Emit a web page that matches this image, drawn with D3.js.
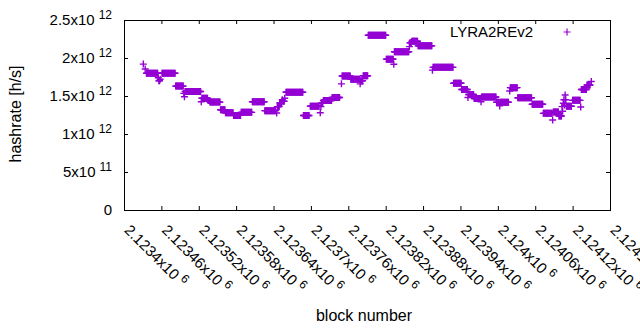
<!DOCTYPE html>
<html>
<head>
<meta charset="utf-8">
<script src="https://cdn.jsdelivr.net/npm/d3@7"></script>
<style>
  body { margin: 0; background: #fff; }
  text { font-family: "Liberation Sans", Arial, sans-serif; fill: #000; }
</style>
</head>
<body>
<div id="chart"></div>
<script>
const W = 640, H = 330;
const PLOT = {LEFT: 124, RIGHT: 610, TOP: 20, BOTTOM: 210};
const COLOR = "#9400d3";

// runs of blocks with the same hashrate: [first block, last block, hashrate (x10^12 h/s)]
const runs = [
    [2123431, 2123431, 1.92], [2123434, 2123434, 1.855], [2123436, 2123454, 1.80],
    [2123455, 2123455, 1.74], [2123456, 2123457, 1.70], [2123458, 2123458, 1.72],
    [2123461, 2123482, 1.80], [2123483, 2123495, 1.63], [2123496, 2123496, 1.535],
    [2123497, 2123497, 1.49], [2123498, 2123523, 1.56], [2123524, 2123524, 1.425],
    [2123525, 2123534, 1.47], [2123535, 2123537, 1.44], [2123538, 2123554, 1.42],
    [2123555, 2123562, 1.32], [2123563, 2123575, 1.28], [2123576, 2123587, 1.245],
    [2123588, 2123605, 1.285], [2123606, 2123625, 1.425], [2123626, 2123643, 1.307],
    [2123645, 2123645, 1.276], [2123646, 2123649, 1.36], [2123650, 2123653, 1.41],
    [2123654, 2123654, 1.45], [2123655, 2123657, 1.43], [2123658, 2123658, 1.47],
    [2123660, 2123687, 1.55], [2123688, 2123697, 1.243], [2123699, 2123713, 1.365],
    [2123715, 2123715, 1.28], [2123716, 2123716, 1.36], [2123717, 2123719, 1.41],
    [2123720, 2123733, 1.44], [2123734, 2123746, 1.48], [2123749, 2123749, 1.66],
    [2123750, 2123763, 1.763], [2123764, 2123778, 1.72], [2123779, 2123779, 1.66],
    [2123780, 2123783, 1.70], [2123784, 2123791, 1.766], [2123792, 2123820, 2.30],
    [2123821, 2123832, 1.985], [2123833, 2123833, 1.917], [2123834, 2123857, 2.083],
    [2123858, 2123858, 2.15], [2123859, 2123861, 2.20], [2123862, 2123871, 2.22],
    [2123872, 2123894, 2.16], [2123895, 2123895, 1.84], [2123896, 2123928, 1.877],
    [2123929, 2123941, 1.667], [2123942, 2123951, 1.585], [2123952, 2123952, 1.48],
    [2123953, 2123961, 1.52], [2123962, 2123972, 1.467], [2123973, 2123973, 1.425],
    [2123974, 2123997, 1.487], [2123998, 2124002, 1.417], [2124003, 2124003, 1.37],
    [2124004, 2124017, 1.417], [2124019, 2124019, 1.566], [2124020, 2124031, 1.61],
    [2124032, 2124054, 1.476], [2124055, 2124072, 1.392], [2124073, 2124087, 1.272],
    [2124088, 2124088, 1.184], [2124089, 2124097, 1.29], [2124098, 2124102, 1.237],
    [2124103, 2124103, 1.36], [2124104, 2124104, 1.30], [2124105, 2124105, 1.404],
    [2124106, 2124106, 1.45], [2124107, 2124107, 1.38], [2124108, 2124108, 1.513],
    [2124109, 2124109, 1.45], [2124110, 2124118, 1.365], [2124120, 2124132, 1.443],
    [2124133, 2124133, 1.355], [2124134, 2124142, 1.585], [2124143, 2124148, 1.645],
    [2124150, 2124150, 1.69]
];

const xTicks = [2123400, 2123460, 2123520, 2123580, 2123640, 2123700, 2123760,
    2123820, 2123880, 2123940, 2124000, 2124060, 2124120, 2124180];
const xTickLabels = ["2.1234", "2.12346", "2.12352", "2.12358", "2.12364", "2.1237", "2.12376",
    "2.12382", "2.12388", "2.12394", "2.124", "2.12406", "2.12412", "2.12418"];
const yTicks = [0, 5e11, 1e12, 1.5e12, 2e12, 2.5e12];
const yTickMantissa = ["0", "5", "1", "1.5", "2", "2.5"];
const yTickExponent = ["", "11", "12", "12", "12", "12"];

const points = [];
runs.forEach(([first, last, rate]) => {
    for (let b = first; b <= last; b++) points.push({block: b, rate: rate * 1e12});
});

const chart = d3.select("#chart").append("svg")
    .attr("width", W)
    .attr("height", H);

const xScale = d3.scaleLinear().domain([2123400, 2124180]).range([PLOT.LEFT, PLOT.RIGHT]);
const yScale = d3.scaleLinear().domain([0, 2.5e12]).range([PLOT.BOTTOM, PLOT.TOP]);

// mirrored inward ticks
function ticksOnly(g) {
    g.select(".domain").remove();
    g.selectAll(".tick line").attr("stroke", "#000");
}
chart.append("g").attr("transform", `translate(0, ${PLOT.BOTTOM})`)
    .call(d3.axisBottom(xScale).tickValues(xTicks).tickSize(-4).tickFormat((d, i) => xTickLabels[i]))
    .call(ticksOnly);
chart.append("g").attr("transform", `translate(0, ${PLOT.TOP})`)
    .call(d3.axisTop(xScale).tickValues(xTicks).tickSize(-4).tickFormat(""))
    .call(ticksOnly);
chart.append("g").attr("transform", `translate(${PLOT.LEFT}, 0)`)
    .call(d3.axisLeft(yScale).tickValues(yTicks).tickSize(-4).tickFormat(""))
    .call(ticksOnly);
chart.append("g").attr("transform", `translate(${PLOT.RIGHT}, 0)`)
    .call(d3.axisRight(yScale).tickValues(yTicks).tickSize(-4).tickFormat(""))
    .call(ticksOnly);

// x tick labels, rotated (the last one runs off the page, as in the original)
chart.selectAll("g.tick text").filter(function() { return this.textContent !== ""; })
    .each(function(d, i) {
        const t = d3.select(this);
        const label = t.text();
        t.text(null)
            .attr("y", null).attr("dy", null)
            .attr("text-anchor", "start")
            .attr("font-size", "15px")
            .attr("font-family", null)
            .attr("transform", "translate(-1, 21) rotate(45)");
        t.append("tspan").text(label + "x10");
        t.append("tspan").attr("dx", 4).attr("dy", -6).attr("font-size", "12px").text("6");
    });

// y tick labels
yTicks.forEach((v, i) => {
    const t = chart.append("text")
        .attr("x", 112)
        .attr("y", yScale(v) + 5)
        .attr("text-anchor", "end")
        .attr("font-size", "15px");
    if (yTickExponent[i] === "") {
        t.text(yTickMantissa[i]);
    } else {
        t.append("tspan").text(yTickMantissa[i] + "x10");
        t.append("tspan").attr("dx", 4).attr("dy", -6).attr("font-size", "12px").text(yTickExponent[i]);
    }
});

// frame
chart.append("rect")
    .attr("x", PLOT.LEFT + 0.5).attr("y", PLOT.TOP + 0.5)
    .attr("width", PLOT.RIGHT - PLOT.LEFT).attr("height", PLOT.BOTTOM - PLOT.TOP)
    .attr("fill", "none").attr("stroke", "#000").attr("stroke-width", 1);

// points
function plus(cx, cy, r) {
    return `M${cx - r},${cy}h${2 * r}M${cx},${cy - r}v${2 * r}`;
}
chart.append("g")
    .selectAll("path")
    .data(points)
    .join("path")
    .attr("d", d => plus(xScale(d.block), yScale(d.rate), 3.5))
    .attr("stroke", COLOR)
    .attr("stroke-width", 1.4)
    .attr("fill", "none");

// key
chart.append("text")
    .attr("x", 533).attr("y", 37)
    .attr("text-anchor", "end")
    .attr("font-size", "15px")
    .text("LYRA2REv2");
chart.append("path")
    .attr("d", plus(567, 32, 3.5))
    .attr("stroke", COLOR).attr("stroke-width", 1.2);

// axis titles
chart.append("text")
    .attr("transform", "translate(21, 114) rotate(-90)")
    .attr("text-anchor", "middle")
    .attr("font-size", "16px")
    .text("hashrate [h/s]");
chart.append("text")
    .attr("x", 364).attr("y", 321)
    .attr("text-anchor", "middle")
    .attr("font-size", "16px")
    .text("block number");
</script>
</body>
</html>
